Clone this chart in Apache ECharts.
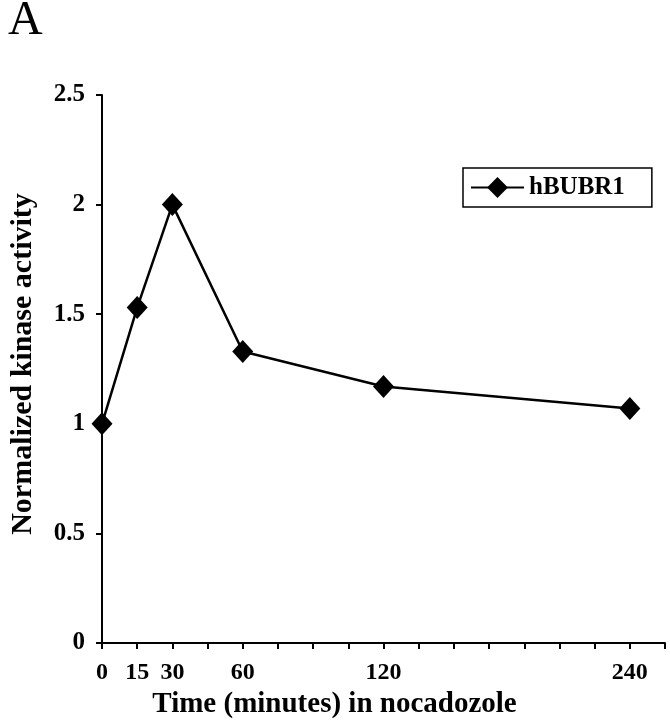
<!DOCTYPE html>
<html>
<head>
<meta charset="utf-8">
<script src="https://cdn.jsdelivr.net/npm/echarts@6/dist/echarts.min.js"></script>
<style>
  html, body { margin: 0; padding: 0; background: #fff; }
  #chart { width: 670px; height: 720px; }
</style>
</head>
<body>
<div id="chart"></div>
<script>
// x axis slots as in the original (unevenly spaced time points, blank slots between)
var timeLabels = ['0', '15', '30', '', '60', '', '', '', '120', '', '', '', '', '', '', '240', ''];
// normalized kinase activity, null where a slot has no measurement
var activity = [1.0, 1.53, 2.0, null, 1.33, null, null, null, 1.17, null, null, null, null, null, null, 1.07, null];
var yTicks = [0, 0.5, 1, 1.5, 2, 2.5];

var font = '"Liberation Serif", "Times New Roman", serif';

var chart = echarts.init(document.getElementById('chart'));
chart.setOption({
  animation: false,
  title: {
    text: 'A',
    left: 3,
    top: -8,
    textStyle: { fontFamily: font, fontSize: 48, fontWeight: 'normal', color: '#000' }
  },
  legend: {
    data: ['hBUBR1'],
    left: 463,
    top: 168,
    borderColor: '#000',
    borderWidth: 1.5,
    borderRadius: 0,
    padding: [7, 27, 7, 7],
    itemWidth: 53,
    itemHeight: 26,
    textStyle: { fontFamily: font, fontSize: 25, fontWeight: 'bold', color: '#000' }
  },
  grid: { left: 102, right: 5, top: 95, bottom: 77, outerBoundsMode: 'none' },
  xAxis: {
    type: 'category',
    data: timeLabels,
    boundaryGap: false,
    name: 'Time (minutes) in nocadozole',
    nameLocation: 'middle',
    nameGap: 41,
    nameTextStyle: { fontFamily: font, fontSize: 29, fontWeight: 'bold', color: '#000', padding: [0, 98, 0, 0] },
    axisLine: { lineStyle: { color: '#000', width: 2 } },
    axisTick: { interval: 0, length: 6, lineStyle: { color: '#000', width: 2 } },
    axisLabel: { interval: 0, margin: 18, fontFamily: font, fontSize: 24, fontWeight: 'bold', color: '#000' },
    splitLine: { show: false }
  },
  yAxis: {
    type: 'value',
    min: yTicks[0],
    max: yTicks[yTicks.length - 1],
    interval: 0.5,
    name: 'Normalized kinase activity',
    nameLocation: 'middle',
    nameGap: 64,
    nameTextStyle: { fontFamily: font, fontSize: 30, fontWeight: 'bold', color: '#000', padding: [0, 0, 0, 10] },
    axisLine: { show: true, lineStyle: { color: '#000', width: 2 } },
    axisTick: { show: true, length: 6, lineStyle: { color: '#000', width: 2 } },
    axisLabel: { margin: 17, fontFamily: font, fontSize: 25, fontWeight: 'bold', color: '#000' },
    splitLine: { show: false }
  },
  series: [{
    name: 'hBUBR1',
    type: 'line',
    data: activity,
    connectNulls: true,
    symbol: 'diamond',
    symbolSize: [21, 23],
    lineStyle: { color: '#000', width: 2.5 },
    itemStyle: { color: '#000' }
  }]
});
</script>
</body>
</html>
